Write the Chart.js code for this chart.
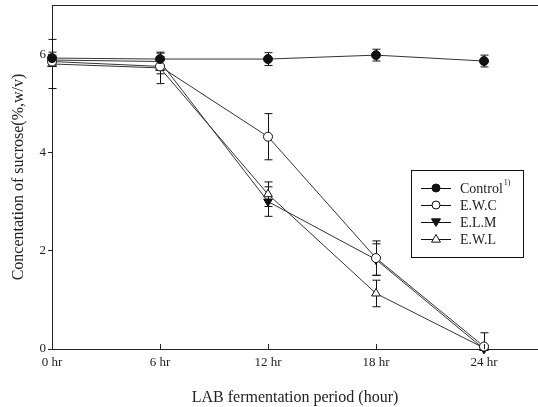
<!DOCTYPE html>
<html>
<head>
<meta charset="utf-8">
<script src="https://cdn.jsdelivr.net/npm/chart.js@4/dist/chart.umd.min.js"></script>
<style>
  html, body { margin: 0; padding: 0; background: #fff; }
  #wrap { width: 538px; height: 407px; }
</style>
</head>
<body>
<div id="wrap"><canvas id="c" width="538" height="407"></canvas></div>
<script>
// Fermentation time points (hours)
const hours = [0, 6, 12, 18, 24];
const xTicks = [0, 6, 12, 18, 24];
const yTicks = [0, 2, 4, 6];

// Sucrose concentration (%, w/v) and standard deviations
const controlVals = [5.92, 5.90, 5.90, 5.98, 5.86];
const controlErr  = [0.12, 0.12, 0.13, 0.12, 0.12];
const ewcVals = [5.85, 5.75, 4.32, 1.85, 0.05];
const ewcErr  = [0.10, 0.15, 0.47, 0.35, 0.28];
const elmVals = [5.88, 5.85, 3.00, 1.82, 0.00];
const elmErr  = [0.10, 0.10, 0.30, 0.32, 0.05];
const ewlVals = [5.80, 5.72, 3.15, 1.13, 0.02];
const ewlErr  = [0.50, 0.32, 0.25, 0.27, 0.05];

const seriesNames = ['Control', 'E.W.C', 'E.L.M', 'E.W.L'];

const FONT = '"Liberation Serif", "Times New Roman", serif';
const INK = '#222';

function pts(vals) { return hours.map((h, i) => ({ x: h, y: vals[i] })); }

const markerStyles = [
  { pointStyle: 'circle', fill: '#111', rot: 0, r: 4.5 },
  { pointStyle: 'circle', fill: '#fff', rot: 0, r: 4.5 },
  { pointStyle: 'triangle', fill: '#111', rot: 180, r: 5 },
  { pointStyle: 'triangle', fill: '#fff', rot: 0, r: 5 }
];
const allVals = [controlVals, ewcVals, elmVals, ewlVals];
const allErr = [controlErr, ewcErr, elmErr, ewlErr];

const datasets = allVals.map((v, i) => ({
  label: seriesNames[i],
  data: pts(v),
  errors: allErr[i],
  borderColor: '#333',
  borderWidth: 1,
  pointStyle: markerStyles[i].pointStyle,
  pointRotation: markerStyles[i].rot,
  pointRadius: markerStyles[i].r,
  pointBackgroundColor: markerStyles[i].fill,
  pointBorderColor: '#111',
  pointBorderWidth: 1,
  fill: false,
  clip: false,
  tension: 0
}));

// Vertical error bars with caps, drawn under the markers
const errorBars = {
  id: 'errorBars',
  beforeDatasetsDraw(chart) {
    const { ctx, scales: { x, y } } = chart;
    ctx.save();
    ctx.strokeStyle = '#111';
    ctx.lineWidth = 1;
    chart.data.datasets.forEach(ds => {
      ds.data.forEach((p, i) => {
        const e = ds.errors[i];
        if (!e) return;
        const px = Math.round(x.getPixelForValue(p.x)) + 0.5;
        const top = y.getPixelForValue(p.y + e);
        const bot = y.getPixelForValue(Math.max(0, p.y - e));
        ctx.beginPath();
        ctx.moveTo(px, top); ctx.lineTo(px, bot);
        ctx.moveTo(px - 4, top); ctx.lineTo(px + 4, top);
        ctx.moveTo(px - 4, bot); ctx.lineTo(px + 4, bot);
        ctx.stroke();
      });
    });
    ctx.restore();
  }
};

// Frame top line, inward x ticks and the boxed legend
const decor = {
  id: 'decor',
  afterDraw(chart) {
    const { ctx, chartArea: a, scales: { x, y } } = chart;
    ctx.save();
    ctx.strokeStyle = INK;
    ctx.lineWidth = 1;
    ctx.beginPath();
    ctx.moveTo(a.left, Math.round(a.top) + 0.5);
    ctx.lineTo(a.right, Math.round(a.top) + 0.5);
    xTicks.forEach(t => {
      if (t === 0) return;
      const px = Math.round(x.getPixelForValue(t)) + 0.5;
      ctx.moveTo(px, a.bottom); ctx.lineTo(px, a.bottom - 5);
    });
    ctx.stroke();

    // legend
    const bx = 411, by = 170, bw = 112, bh = 87;
    ctx.strokeStyle = '#111';
    ctx.strokeRect(bx + 0.5, by + 0.5, bw, bh);
    const rows = [188, 205, 222, 239];
    ctx.font = '14px ' + FONT;
    ctx.textBaseline = 'middle';
    rows.forEach((ry, i) => {
      ctx.strokeStyle = '#111';
      ctx.beginPath();
      ctx.moveTo(421, ry + 0.5); ctx.lineTo(451, ry + 0.5);
      ctx.stroke();
      const m = markerStyles[i];
      ctx.fillStyle = m.fill;
      ctx.beginPath();
      if (m.pointStyle === 'circle') {
        ctx.arc(436, ry, m.r - 0.5, 0, Math.PI * 2);
      } else {
        const s = m.r - 0.5;
        const dir = m.rot === 180 ? -1 : 1;
        ctx.moveTo(436, ry - dir * s);
        ctx.lineTo(436 - s, ry + dir * s * 0.7);
        ctx.lineTo(436 + s, ry + dir * s * 0.7);
        ctx.closePath();
      }
      ctx.fill();
      ctx.stroke();
      ctx.fillStyle = INK;
      ctx.fillText(seriesNames[i], 460, ry + 1);
      if (i === 0) {
        const w = ctx.measureText(seriesNames[i]).width;
        ctx.font = '8px ' + FONT;
        ctx.fillText('1)', 460 + w + 1, ry - 5);
        ctx.font = '14px ' + FONT;
      }
    });
    ctx.restore();
  }
};

new Chart(document.getElementById('c'), {
  type: 'line',
  data: { datasets },
  options: {
    responsive: false,
    animation: false,
    layout: { autoPadding: false, padding: { top: 5, right: 0, left: 0, bottom: 0 } },
    plugins: { legend: { display: false }, tooltip: { enabled: false } },
    scales: {
      x: {
        type: 'linear',
        min: 0, max: 27,
        afterBuildTicks: ax => { ax.ticks = xTicks.map(v => ({ value: v })); },
        afterFit: ax => { ax.height = 58; ax.paddingLeft = 0; ax.paddingRight = 0; },
        grid: { display: false, drawTicks: false },
        border: { display: true, color: INK, width: 1 },
        ticks: {
          padding: 6,
          color: INK,
          font: { family: FONT, size: 13 },
          callback: v => v + ' hr'
        },
        title: {
          display: true,
          text: 'LAB fermentation period (hour)',
          color: INK,
          font: { family: FONT, size: 16 },
          padding: { top: 4, bottom: 0 }
        }
      },
      y: {
        min: 0, max: 7,
        afterBuildTicks: ax => { ax.ticks = yTicks.map(v => ({ value: v })); },
        afterFit: ax => { ax.width = 52; ax.paddingTop = 0; ax.paddingBottom = 0; },
        grid: { display: true, drawOnChartArea: false, drawTicks: true, tickLength: 4, color: INK },
        border: { display: true, color: INK, width: 1 },
        ticks: {
          padding: 2,
          color: INK,
          font: { family: FONT, size: 13 }
        },
        title: {
          display: true,
          text: 'Concentation of sucrose(%,w/v)',
          color: INK,
          font: { family: FONT, size: 16 },
          padding: { top: 9, bottom: 4 }
        }
      }
    }
  },
  plugins: [errorBars, decor]
});
</script>
</body>
</html>
